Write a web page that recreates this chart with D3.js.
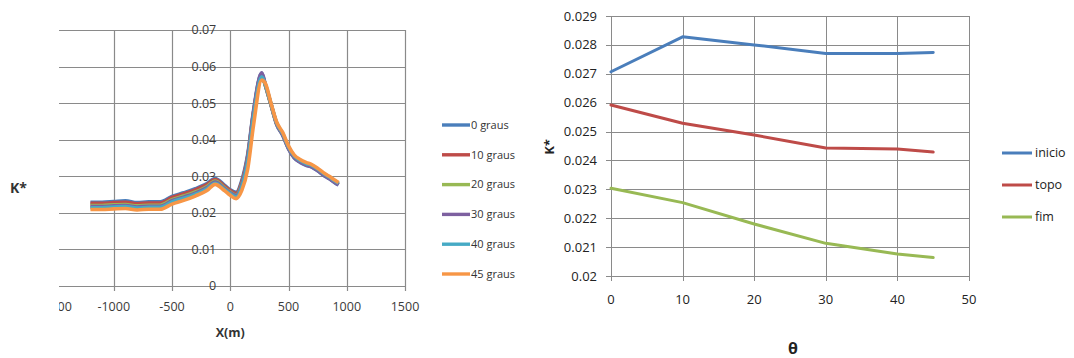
<!DOCTYPE html>
<html><head><meta charset="utf-8">
<script src="https://cdn.jsdelivr.net/npm/d3@7"></script>
<style>
body{margin:0;background:#fff;}
svg{display:block;font-family:"Open Sans",sans-serif;}
</style></head>
<body><svg id="c" width="1074" height="358"></svg>
<script>
// ---------- Left chart data ----------
const xPos = [-1200,-1100,-1000,-900,-800,-700,-600,-500,-400,-300,-200,-130,-50,0,50,100,150,200,270,300,350,400,450,500,550,600,650,700,750,800,850,900,930];
const graus0  = [0.0229,0.0229,0.0231,0.0233,0.0228,0.0230,0.0230,0.0245,0.0255,0.0266,0.0280,0.0294,0.0276,0.0263,0.0256,0.0290,0.0360,0.0480,0.0582,0.0550,0.0495,0.0440,0.0412,0.0375,0.0350,0.0338,0.0330,0.0325,0.0315,0.0303,0.0293,0.0282,0.0276];
const graus10 = [0.0226,0.0226,0.0228,0.0229,0.0225,0.0227,0.0227,0.0242,0.0252,0.0263,0.0277,0.0291,0.0273,0.0261,0.0253,0.0285,0.0355,0.0475,0.0578,0.0550,0.0495,0.0442,0.0414,0.0377,0.0352,0.0340,0.0332,0.0327,0.0317,0.0305,0.0295,0.0284,0.0278];
const graus20 = [0.0220,0.0220,0.0222,0.0223,0.0219,0.0221,0.0221,0.0236,0.0246,0.0257,0.0272,0.0287,0.0269,0.0257,0.0249,0.0280,0.0350,0.0470,0.0575,0.0550,0.0496,0.0443,0.0415,0.0378,0.0353,0.0341,0.0333,0.0328,0.0318,0.0306,0.0296,0.0285,0.0279];
const graus30 = [0.0217,0.0217,0.0219,0.0220,0.0216,0.0218,0.0218,0.0233,0.0243,0.0254,0.0269,0.0284,0.0267,0.0255,0.0247,0.0278,0.0352,0.0475,0.0583,0.0553,0.0497,0.0442,0.0413,0.0376,0.0351,0.0339,0.0331,0.0326,0.0316,0.0304,0.0294,0.0283,0.0277];
const graus40 = [0.0214,0.0214,0.0216,0.0217,0.0213,0.0215,0.0215,0.0230,0.0240,0.0251,0.0266,0.0281,0.0264,0.0252,0.0244,0.0272,0.0340,0.0462,0.0572,0.0552,0.0498,0.0445,0.0417,0.0380,0.0355,0.0343,0.0335,0.0330,0.0320,0.0308,0.0298,0.0287,0.0281];
const graus45 = [0.0209,0.0209,0.0211,0.0212,0.0208,0.0210,0.0210,0.0224,0.0234,0.0246,0.0261,0.0278,0.0261,0.0248,0.0239,0.0262,0.0320,0.0440,0.0563,0.0555,0.0500,0.0447,0.0420,0.0383,0.0358,0.0346,0.0338,0.0332,0.0322,0.0310,0.0300,0.0289,0.0283];
const leftNames = ["0 graus","10 graus","20 graus","30 graus","40 graus","45 graus"];
const leftSeries = [graus0,graus10,graus20,graus30,graus40,graus45];
const leftColors = ["#4a7ebb","#be4b48","#98b954","#7d60a0","#46aac5","#f79646"];
const leftXTicks = [-1500,-1000,-500,0,500,1000,1500];
const leftYTicks = [0,0.01,0.02,0.03,0.04,0.05,0.06,0.07];

// ---------- Right chart data ----------
const theta = [0,10,20,30,40,45];
const inicio = [0.02707,0.02828,0.02800,0.02770,0.02770,0.02774];
const topo   = [0.02592,0.02529,0.02488,0.02443,0.02440,0.02429];
const fim    = [0.02304,0.02254,0.02180,0.02113,0.02076,0.02064];
const rightNames = ["inicio","topo","fim"];
const rightSeries = [inicio,topo,fim];
const rightColors = ["#4a7ebb","#be4b48","#98b954"];
const rightXTicks = [0,10,20,30,40,50];
const rightYTicks = [0.02,0.021,0.022,0.023,0.024,0.025,0.026,0.027,0.028,0.029];

const svg = d3.select("#c");
const grid = "#8a8a8a";

// ===== Left chart =====
const L = svg.append("g");
const lx = d3.scaleLinear().domain([-1500,1500]).range([55.5,405]);
const ly = d3.scaleLinear().domain([0,0.07]).range([286,30]);
const clipL = 59;
L.append("clipPath").attr("id","clipL").append("rect").attr("x",clipL).attr("y",0).attr("width",420).attr("height",358);
const Lc = L.append("g").attr("clip-path","url(#clipL)");
Lc.selectAll(".hg").data(leftYTicks).join("line")
  .attr("x1",lx(-1500)).attr("x2",lx(1500))
  .attr("y1",d=>Math.round(ly(d))+0.5).attr("y2",d=>Math.round(ly(d))+0.5)
  .attr("stroke",grid).attr("stroke-width",1.2);
Lc.selectAll(".vg").data(leftXTicks).join("line")
  .attr("x1",d=>Math.round(lx(d))+0.5).attr("x2",d=>Math.round(lx(d))+0.5)
  .attr("y1",ly(0.07)).attr("y2",ly(0)+5)
  .attr("stroke",grid).attr("stroke-width",1.2);
Lc.selectAll(".yt").data(leftYTicks).join("line")
  .attr("x1",lx(0)-4).attr("x2",lx(0))
  .attr("y1",d=>Math.round(ly(d))+0.5).attr("y2",d=>Math.round(ly(d))+0.5)
  .attr("stroke",grid);
Lc.selectAll(".yl").data(leftYTicks).join("text")
  .attr("x",lx(0)-14).attr("y",d=>ly(d)).attr("dy","0.35em")
  .attr("text-anchor","end").attr("font-size",12.5).attr("fill","#3a3a3a")
  .text(d=>d===0?"0":d3.format(".2f")(d));
Lc.selectAll(".xl").data(leftXTicks).join("text")
  .attr("x",d=>lx(d)).attr("y",307).attr("dy","0.35em")
  .attr("text-anchor","middle").attr("font-size",12.5).attr("fill","#3a3a3a")
  .text(d=>d);
const lineL = d3.line().x((d,i)=>lx(xPos[i])).y(d=>ly(d)).curve(d3.curveMonotoneX);
leftSeries.forEach((s,k)=>{
  Lc.append("path").attr("d",lineL(s)).attr("fill","none")
    .attr("stroke",leftColors[k]).attr("stroke-width",3.6).attr("stroke-linejoin","round");
});
L.append("text").attr("x",lx(0)).attr("y",333).attr("dy","0.35em").attr("text-anchor","middle")
  .attr("font-size",12.5).attr("font-weight","bold").attr("fill","#333").text("X(m)");
L.append("text").attr("x",10).attr("y",188).attr("dy","0.35em").attr("text-anchor","start")
  .attr("font-size",14).attr("font-weight","bold").attr("fill","#333").text("K*");
const LL = L.append("g");
leftNames.forEach((n,k)=>{
  const y = 125 + k*29.8;
  LL.append("line").attr("x1",442).attr("x2",470).attr("y1",y).attr("y2",y)
    .attr("stroke",leftColors[k]).attr("stroke-width",3.4);
  LL.append("text").attr("x",471).attr("y",y).attr("dy","0.35em").attr("font-size",11)
    .attr("fill","#333").text(n);
});

// ===== Right chart =====
const R = svg.append("g");
const rx = d3.scaleLinear().domain([0,50]).range([611,969]);
const ry = d3.scaleLinear().domain([0.02,0.029]).range([276,16]);
R.selectAll(".hg").data(rightYTicks).join("line")
  .attr("x1",rx(0)-5).attr("x2",rx(50))
  .attr("y1",d=>Math.round(ry(d))+0.5).attr("y2",d=>Math.round(ry(d))+0.5)
  .attr("stroke",grid).attr("stroke-width",1);
R.selectAll(".vg").data(rightXTicks).join("line")
  .attr("x1",d=>Math.round(rx(d))+0.5).attr("x2",d=>Math.round(rx(d))+0.5)
  .attr("y1",ry(0.029)).attr("y2",ry(0.02)+5)
  .attr("stroke",grid).attr("stroke-width",1);
R.selectAll(".yl").data(rightYTicks).join("text")
  .attr("x",597).attr("y",d=>ry(d)).attr("dy","0.35em")
  .attr("text-anchor","end").attr("font-size",13).attr("fill","#222")
  .text(d=>d===0.02?"0.02":d3.format(".3f")(d));
R.selectAll(".xl").data(rightXTicks).join("text")
  .attr("x",d=>rx(d)).attr("y",299).attr("dy","0.35em")
  .attr("text-anchor","middle").attr("font-size",13).attr("fill","#222")
  .text(d=>d);
const lineR = d3.line().x((d,i)=>rx(theta[i])).y(d=>ry(d)).curve(d3.curveLinear);
rightSeries.forEach((s,k)=>{
  R.append("path").attr("d",lineR(s)).attr("fill","none")
    .attr("stroke",rightColors[k]).attr("stroke-width",3).attr("stroke-linejoin","round").attr("stroke-linecap","round");
});
R.append("text").attr("transform","translate(549,147) rotate(-90)").attr("dy","0.35em")
  .attr("text-anchor","middle").attr("font-size",13).attr("font-weight","bold").attr("fill","#222").text("K*");
R.append("text").attr("x",793).attr("y",348).attr("dy","0.35em").attr("text-anchor","middle")
  .attr("font-size",16).attr("font-weight","bold").attr("fill","#222").text("θ");
rightNames.forEach((n,k)=>{
  const y = 153 + k*32;
  R.append("line").attr("x1",1002).attr("x2",1032).attr("y1",y).attr("y2",y)
    .attr("stroke",rightColors[k]).attr("stroke-width",3);
  R.append("text").attr("x",1035).attr("y",y).attr("dy","0.35em").attr("font-size",12.5)
    .attr("fill","#222").text(n);
});
</script></body></html>
